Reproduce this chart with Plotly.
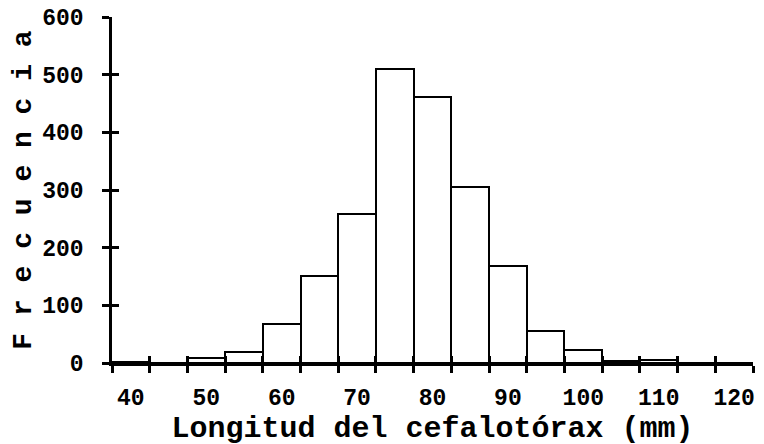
import plotly.graph_objects as go

# Bin centres (mm) and frequencies
bin_centers = [40, 45, 50, 55, 60, 65, 70, 75, 80, 85, 90, 95, 100, 105, 110, 115, 120]
frequencies = [2, 0, 8, 19, 67, 151, 258, 509, 461, 305, 169, 56, 23, 3, 6, 0, 0]
bin_width = 5

bin_edges = [c - bin_width / 2 for c in bin_centers] + [bin_centers[-1] + bin_width / 2]
x_tick_labels = [40, 50, 60, 70, 80, 90, 100, 110, 120]
y_ticks = [0, 100, 200, 300, 400, 500, 600]

FONT = "Liberation Mono, Courier New, monospace"
xr = [bin_edges[0], bin_edges[-1]]
yr = [0, 600]

fig = go.Figure()
# transparent copy on the overlay axes, which carry the inner half of the crossing ticks
fig.add_trace(go.Bar(
    x=bin_centers, y=frequencies, width=bin_width, xaxis="x2", yaxis="y2",
    marker=dict(color="rgba(0,0,0,0)", line=dict(width=0)),
    showlegend=False, hoverinfo="skip",
))
fig.add_trace(go.Bar(
    x=bin_centers, y=frequencies, width=bin_width,
    marker=dict(color="white", line=dict(color="black", width=2)),
    showlegend=False, hoverinfo="x+y",
))

tickfont = dict(family=FONT, size=23, color="black", weight="bold")
xtitlefont = dict(family=FONT, size=30, color="black", weight="bold")
ytitlefont = dict(family=FONT, size=28, color="black", weight="bold")

fig.update_layout(
    width=764, height=444,
    margin=dict(l=104, r=19, t=9, b=89, autoexpand=False),
    paper_bgcolor="white", plot_bgcolor="white",
    bargap=0, barmode="overlay",
    xaxis=dict(
        range=xr, tickmode="array", tickvals=x_tick_labels,
        ticktext=[str(v) for v in x_tick_labels], ticks="",
        ticklabelstandoff=12, tickfont=tickfont, ticklabeloverflow="allow",
        minor=dict(tickmode="array", tickvals=bin_edges, ticks="outside",
                   ticklen=7, tickwidth=2.5, tickcolor="black", showgrid=False),
        showline=True, linecolor="black", linewidth=2.5, showgrid=False, zeroline=False,
        title=dict(text="Longitud del cefalotórax (mm)", font=xtitlefont, standoff=4),
    ),
    xaxis2=dict(
        overlaying="x", anchor="y2", side="bottom", range=xr,
        tickmode="array", tickvals=bin_edges, showticklabels=False,
        ticks="inside", ticklen=7, tickwidth=2.5, tickcolor="black",
        showline=False, showgrid=False, zeroline=False,
    ),
    yaxis=dict(
        range=yr, tickmode="array", tickvals=y_ticks,
        ticks="outside", ticklen=7, tickwidth=2.5, tickcolor="black",
        ticklabelstandoff=14, ticklabeloverflow="allow",
        tickfont=tickfont,
        showline=True, linecolor="black", linewidth=2.5, showgrid=False, zeroline=False,
        title=dict(text="F r e c u e n c i a", font=ytitlefont, standoff=8),
    ),
    yaxis2=dict(
        overlaying="y", anchor="x2", side="left", range=yr,
        tickmode="array", tickvals=y_ticks, showticklabels=False,
        ticks="inside", ticklen=7, tickwidth=2.5, tickcolor="black",
        showline=False, showgrid=False, zeroline=False,
    ),
)

fig.write_html("out.html")
